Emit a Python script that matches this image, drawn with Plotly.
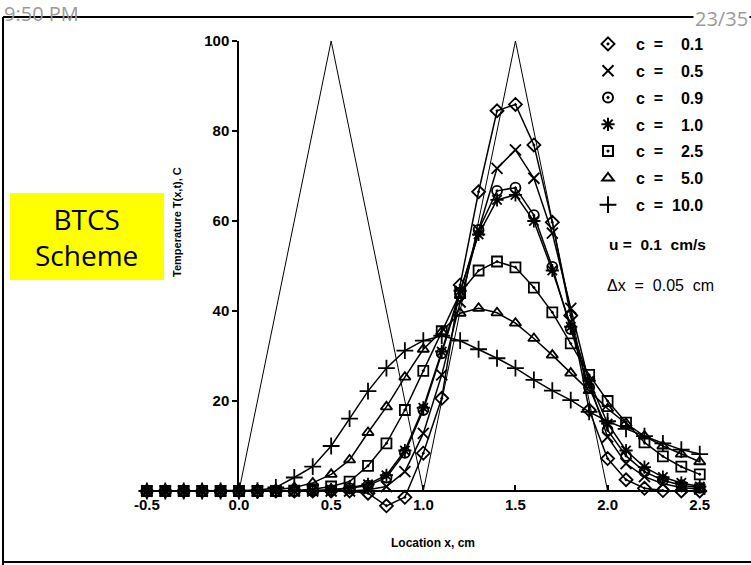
import plotly.graph_objects as go

# ---------------- data ----------------
X_GRID = [-0.5, -0.4, -0.3, -0.2, -0.1, 0.0, 0.1, 0.2, 0.3, 0.4, 0.5,
          0.6, 0.7, 0.8, 0.9, 1.0, 1.1, 1.2, 1.3, 1.4, 1.5,
          1.6, 1.7, 1.8, 1.9, 2.0, 2.1, 2.2, 2.3, 2.4, 2.5]

T_C01 = [0, 0, 0, 0, 0, 0, 0, 0, 0, 0, 0,
         0, -0.5, -3.3, -1.4, 8.4, 20.6, 45.8, 66.5, 84.5, 85.9,
         76.9, 59.7, 39.0, 18.0, 7.2, 2.5, 0.6, 0.1, 0.0, 0.0]
T_C05 = [0, 0, 0, 0, 0, 0, 0, 0, 0, 0, 0,
         0, 0.3, 1.0, 4.3, 12.8, 25.8, 42.0, 58.0, 71.7, 75.8,
         69.5, 57.3, 40.6, 24.0, 12.0, 6.1, 3.2, 1.6, 0.8, 0.4]
T_C09 = [0, 0, 0, 0, 0, 0, 0, 0, 0, 0, 0.2,
         0.6, 1.2, 3.0, 8.5, 18.0, 30.6, 44.0, 58.0, 66.7, 67.4,
         61.3, 49.8, 36.0, 23.0, 13.5, 7.8, 4.3, 2.4, 1.3, 0.7]
T_C10 = [0, 0, 0, 0, 0, 0, 0, 0, 0, 0.1, 0.3,
         0.7, 1.5, 3.5, 9.0, 18.5, 31.0, 44.5, 57.0, 64.7, 65.8,
         60.0, 49.0, 36.5, 24.5, 15.0, 9.0, 5.3, 3.1, 1.8, 1.0]
T_C25 = [0, 0, 0, 0, 0, 0, 0, 0, 0.1, 0.4, 1.0,
         2.1, 5.6, 10.6, 18.0, 26.7, 35.5, 44.0, 49.0, 51.0, 49.7,
         45.2, 39.7, 32.8, 25.8, 20.0, 15.2, 10.8, 7.7, 5.4, 3.7]
T_C50 = [0, 0, 0, 0, 0, 0, 0.1, 0.3, 0.8, 1.8, 3.7,
         6.9, 13.0, 18.7, 25.3, 31.5, 35.4, 39.5, 40.6, 39.6, 37.3,
         33.9, 30.2, 26.2, 22.3, 18.3, 15.0, 12.2, 10.0, 8.2, 6.5]
T_C100 = [0, 0, 0, 0, 0, 0, 0.1, 0.8, 3.0, 5.4, 10.0,
          16.1, 22.2, 27.3, 31.2, 33.4, 34.5, 33.4, 31.5, 29.5, 27.3,
          24.7, 22.3, 20.2, 17.6, 15.5, 13.8, 12.2, 10.6, 9.2, 8.2]

INIT_X = [0.0, 0.5, 1.0]
INIT_T = [0, 100, 0]
EXACT_X = [1.0, 1.5, 2.0]
EXACT_T = [0, 100, 0]

NB = "\u00a0"
FS = "\u2007"
ES = "\u2002"
SERIES_NAMES = [f"{ES}c{NB}{NB}={NB}{NB}{FS}0.1", f"{ES}c{NB}{NB}={NB}{NB}{FS}0.5",
                f"{ES}c{NB}{NB}={NB}{NB}{FS}0.9", f"{ES}c{NB}{NB}={NB}{NB}{FS}1.0",
                f"{ES}c{NB}{NB}={NB}{NB}{FS}2.5", f"{ES}c{NB}{NB}={NB}{NB}{FS}5.0",
                f"{ES}c{NB}{NB}={NB}{NB}10.0"]
SERIES_VALUES = [T_C01, T_C05, T_C09, T_C10, T_C25, T_C50, T_C100]
SYMBOLS = ["diamond-open-dot", "x-thin-open", "circle-open-dot", "asterisk-open",
           "square-open-dot", "triangle-up-open", "cross-thin-open"]
SIZES = [10, 11, 10, 11, 10, 10, 12]

X_TICKS = [-0.5, 0.0, 0.5, 1.0, 1.5, 2.0, 2.5]
X_TICKTEXT = ["-0.5", "0.0", "0.5", "1.0", "1.5", "2.0", "2.5"]
Y_TICKS = [20, 40, 60, 80, 100]

# ---------------- geometry ----------------
W, H = 751, 565
ML, MR, MT, MB = 140, 44, 36, 54
PW = W - ML - MR
PH = H - MT - MB
PX_PER_X = 184.3
PX_PER_T = 4.5
X0_PX = 239
xmin = -(X0_PX - ML) / PX_PER_X
xmax = xmin + PW / PX_PER_X
tmax = 100 + (41 - MT) / PX_PER_T
tmin = tmax - PH / PX_PER_T


def px(xp):
    return (xp - ML) / PW


def py(yp):
    return (H - MB - yp) / PH


BOLD = dict(family="Liberation Sans, Arial, sans-serif", color="black", weight="bold")
SLIDE_FONT = "Open Sans, Lato, sans-serif"

fig = go.Figure()

fig.add_trace(go.Scatter(x=INIT_X, y=INIT_T, mode="lines",
                         line=dict(color="black", width=1), showlegend=False,
                         hoverinfo="skip"))
fig.add_trace(go.Scatter(x=EXACT_X, y=EXACT_T, mode="lines",
                         line=dict(color="black", width=1), showlegend=False,
                         hoverinfo="skip"))

for name, vals, sym, sz in zip(SERIES_NAMES, SERIES_VALUES, SYMBOLS, SIZES):
    mk = dict(symbol=sym, size=sz, color="black", line=dict(color="black", width=1.8))
    fig.add_trace(go.Scatter(x=X_GRID, y=vals, mode="lines+markers",
                             line=dict(color="black", width=1.5),
                             marker=mk, showlegend=False, cliponaxis=False,
                             name=name))
for i, (name, sym, sz) in enumerate(zip(SERIES_NAMES, SYMBOLS, SIZES)):
    mk = dict(symbol=sym, size=sz, color="black", line=dict(color="black", width=2))
    fig.add_trace(go.Scatter(x=[None], y=[None], mode="markers", marker=mk,
                             name=name, legendgroup=f"g{i}", showlegend=True))

# empty trace so that the y-axis subplot (axis drawn at x = 0) is rendered
fig.add_trace(go.Scatter(x=[None], y=[None], xaxis="x2", yaxis="y2", mode="markers",
                         showlegend=False, hoverinfo="skip"))

fig.update_layout(
    width=W, height=H,
    margin=dict(l=ML, r=MR, t=MT, b=MB, pad=0),
    paper_bgcolor="white", plot_bgcolor="rgba(0,0,0,0)",
    showlegend=True,
    xaxis=dict(domain=[0, 1], range=[xmin, xmax], anchor="free",
               position=(0 - tmin) / (tmax - tmin),
               showline=True, linecolor="black", linewidth=1.5,
               ticks="inside", ticklen=5, tickwidth=1.5, tickcolor="black",
               tickvals=X_TICKS, ticktext=X_TICKTEXT,
               tickfont=dict(size=15, **BOLD),
               showgrid=False, zeroline=False),
    yaxis=dict(domain=[0, 1], range=[tmin, tmax], visible=False,
               showgrid=False, zeroline=False),
    xaxis2=dict(domain=[px(X0_PX), 1], range=[0, xmax], anchor="y2",
                visible=False, showgrid=False, zeroline=False),
    yaxis2=dict(domain=[py(491), py(41)], range=[0, 100], anchor="x2",
                showline=True, linecolor="black", linewidth=1.5,
                ticks="outside", ticklen=5, tickwidth=1.5, tickcolor="black",
                tickvals=Y_TICKS, tickfont=dict(size=15, **BOLD),
                showgrid=False, zeroline=False),
    legend=dict(x=px(588), y=py(27), xanchor="left", yanchor="top",
                bgcolor="rgba(0,0,0,0)", font=dict(size=16, **BOLD),
                traceorder="grouped", tracegroupgap=3, itemsizing="trace"),
)

annotations = [
    dict(text="Temperature T(x,t), C", textangle=-90, x=px(177), y=py(222),
         xref="paper", yref="paper", showarrow=False, xanchor="center", yanchor="middle",
         font=dict(size=11, **BOLD)),
    dict(text="Location x, cm", x=px(433), y=py(543), xref="paper", yref="paper",
         showarrow=False, xanchor="center", yanchor="middle",
         font=dict(size=12, **BOLD)),
    dict(text=f"u{NB}={NB}{NB}0.1{NB}{NB}cm/s", x=px(607), y=py(245), xref="paper", yref="paper",
         showarrow=False, xanchor="left", yanchor="middle",
         font=dict(size=15.5, **BOLD)),
    dict(text=f"\u0394x{NB}{NB}={NB}{NB}0.05{NB}{NB}cm", x=px(605), y=py(285), xref="paper", yref="paper",
         showarrow=False, xanchor="left", yanchor="middle",
         font=dict(size=16, family="Liberation Sans, Arial, sans-serif", color="black")),
    dict(text="BTCS<br>Scheme", x=px(86), y=py(237), xref="paper", yref="paper",
         showarrow=False, xanchor="center", yanchor="middle",
         font=dict(size=28, family=SLIDE_FONT, color="black")),
    dict(text="9:50 PM", x=px(2), y=py(14), xref="paper", yref="paper",
         showarrow=False, xanchor="left", yanchor="middle",
         font=dict(size=20, family=SLIDE_FONT, color="#9a9a9a")),
    dict(text="23/35", x=px(750), y=py(19), xref="paper", yref="paper",
         showarrow=False, xanchor="right", yanchor="middle", bgcolor="white",
         font=dict(size=20, family=SLIDE_FONT, color="#9a9a9a")),
]
fig.update_layout(annotations=annotations)

shapes = [
    dict(type="rect", xref="paper", yref="paper", x0=px(10), x1=px(164),
         y0=py(280), y1=py(193), fillcolor="#ffff00", line=dict(width=0), layer="below"),
    dict(type="line", xref="paper", yref="paper", x0=px(3), x1=px(751), y0=py(17), y1=py(17),
         line=dict(color="black", width=2), layer="below"),
    dict(type="line", xref="paper", yref="paper", x0=px(3), x1=px(3), y0=py(17), y1=py(565),
         line=dict(color="black", width=2), layer="below"),
    dict(type="line", xref="paper", yref="paper", x0=px(3), x1=px(751), y0=py(562), y1=py(562),
         line=dict(color="black", width=2), layer="below"),
]
fig.update_layout(shapes=shapes)

fig.write_html("out.html", config={"displayModeBar": False},
               post_script="document.body.style.margin='0px';document.body.style.padding='0px';")
